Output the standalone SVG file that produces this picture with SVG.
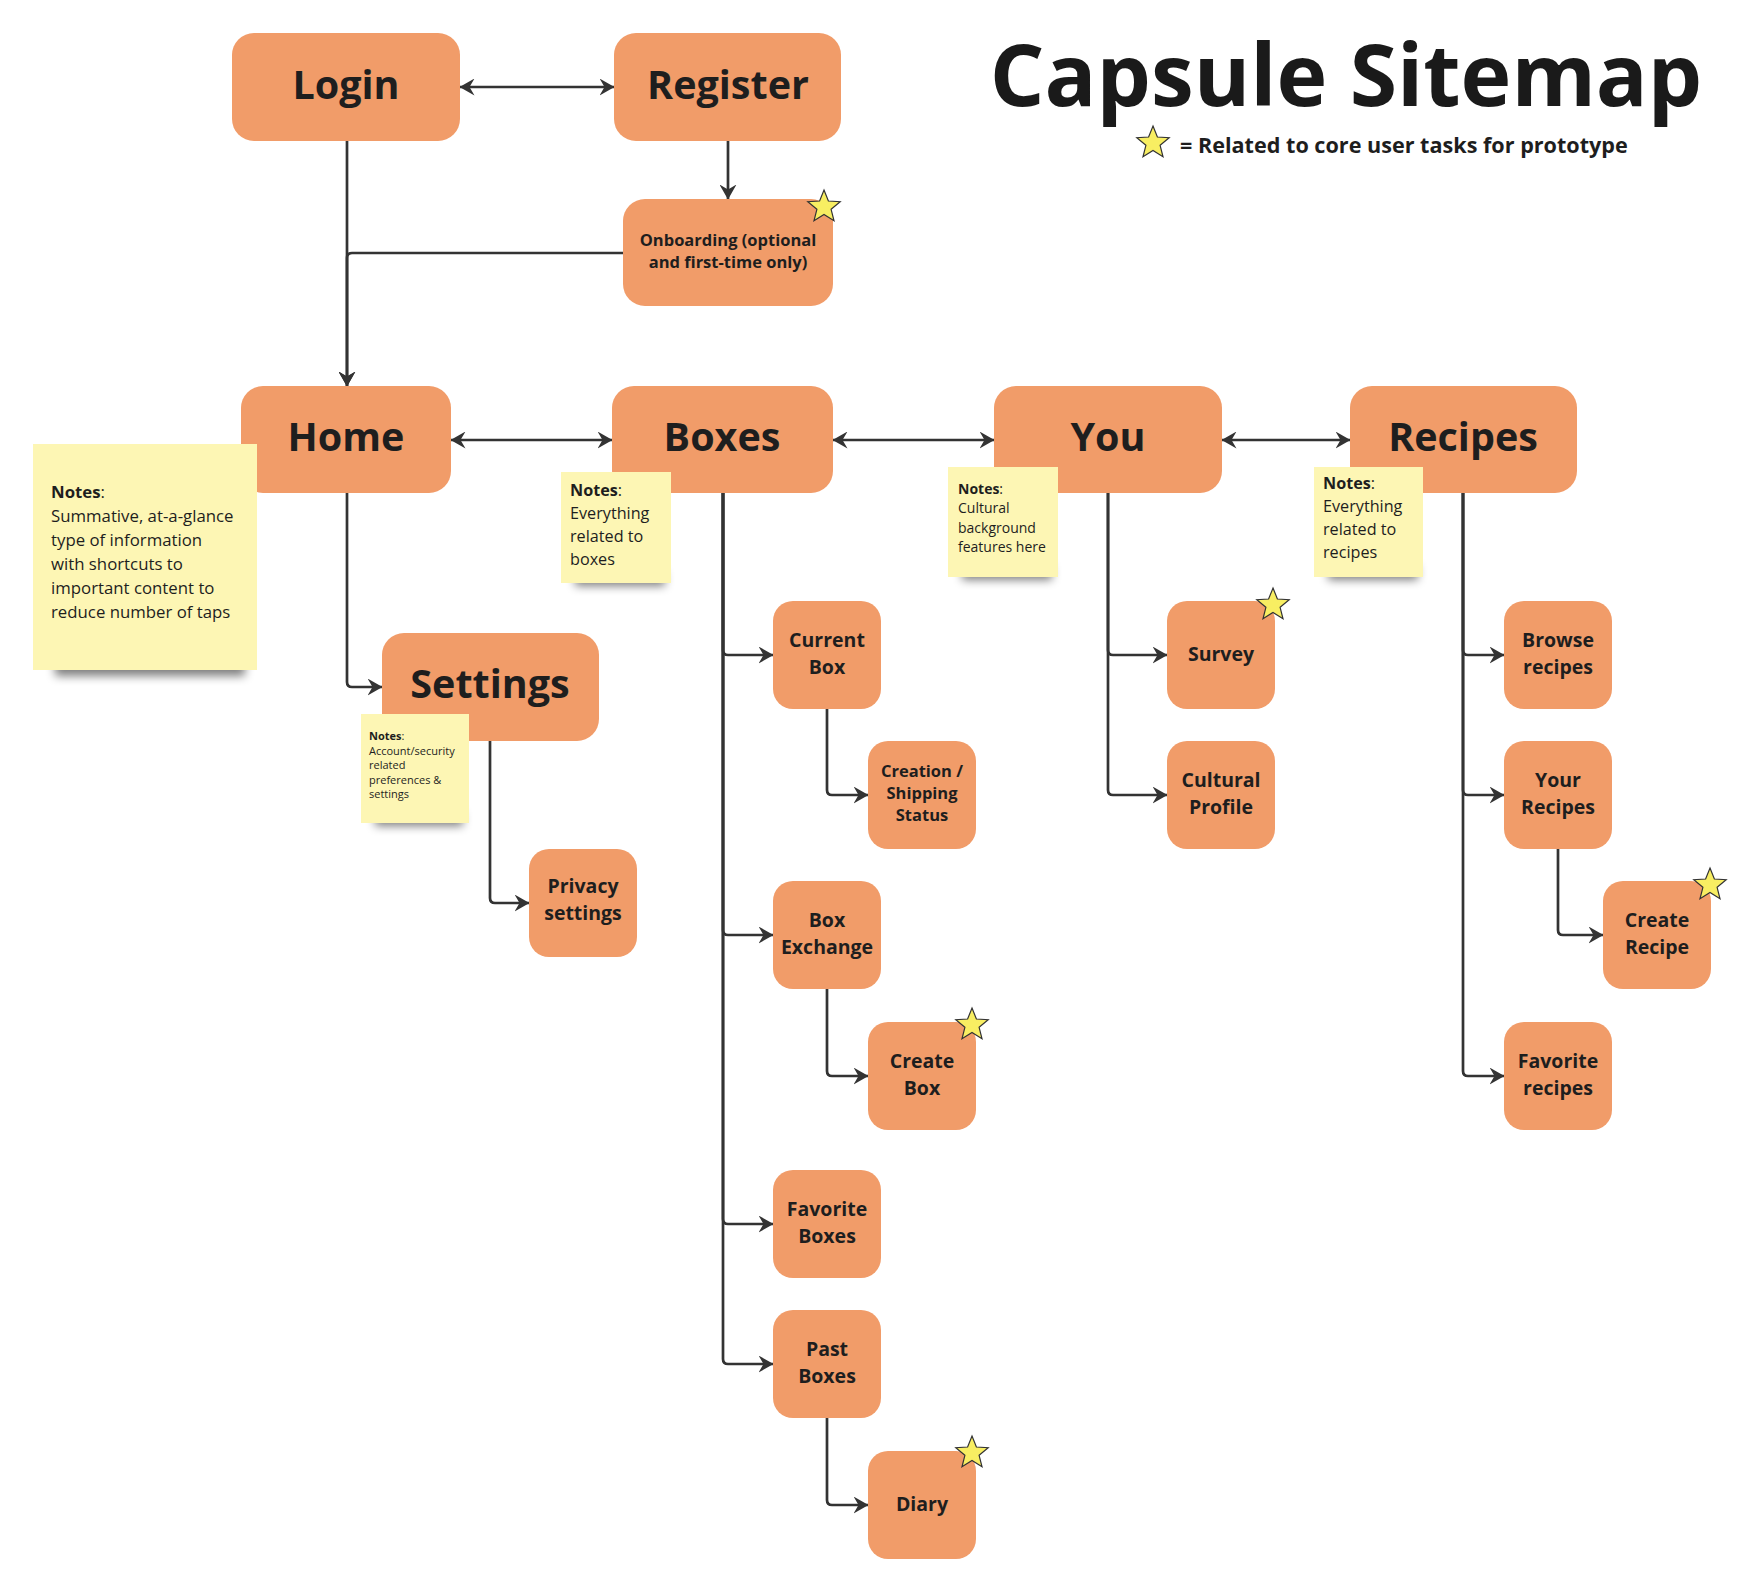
<svg xmlns="http://www.w3.org/2000/svg" width="1742" height="1586" viewBox="0 0 1742 1586">
<defs>
<style>
.box{fill:#F19C69;}
.big{font-family:"Open Sans","Liberation Sans",sans-serif;font-weight:700;font-size:39.5px;fill:#1E1E1E;text-anchor:middle;}
.sm{font-family:"Open Sans","Liberation Sans",sans-serif;font-weight:700;font-size:19.5px;fill:#1E1E1E;text-anchor:middle;}
.xs{font-family:"Open Sans","Liberation Sans",sans-serif;font-weight:700;font-size:16.5px;fill:#1E1E1E;text-anchor:middle;}
.note{fill:#FDF6B4;}
.nt{font-family:"Open Sans","Liberation Sans",sans-serif;fill:#1E1E1E;}
.b{font-weight:700;}
.con{fill:none;stroke:#333333;stroke-width:2.7;}
.star{fill:#F8EE62;stroke:#333333;stroke-width:1.2;stroke-linejoin:miter;}
.shadow{fill:#000;opacity:0.5;filter:url(#blur);}
</style>
<filter id="blur" x="-20%" y="-100%" width="140%" height="300%"><feGaussianBlur stdDeviation="5"/></filter>
<marker id="arr" viewBox="0 0 15 17" refX="14.5" refY="8.5" markerWidth="15" markerHeight="17" markerUnits="userSpaceOnUse" orient="auto-start-reverse">
<path d="M0,0 L15,8.5 L0,17 L5,8.5 Z" fill="#333333"/>
</marker>
<polygon id="st" class="star" points="0,-17 4.4,-6 16.2,-5.3 7.1,2.3 10,13.8 0,7.4 -10,13.8 -7.1,2.3 -16.2,-5.3 -4.4,-6"/>
</defs>
<rect width="1742" height="1586" fill="#FFFFFF"/>

<g id="title">
<text x="1346" y="106" font-family="Open Sans, Liberation Sans, sans-serif" font-weight="700" font-size="86" fill="#1A1A1A" text-anchor="middle">Capsule Sitemap</text>
<use href="#st" x="1153" y="143"/>
<text x="1180" y="153" font-family="Open Sans, Liberation Sans, sans-serif" font-weight="700" font-size="21.6" fill="#1E1E1E">= Related to core user tasks for prototype</text>
</g>

<g id="connectors">
<path class="con" d="M460,87 H614" marker-start="url(#arr)" marker-end="url(#arr)"/>
<path class="con" d="M728,141 V199" marker-end="url(#arr)"/>
<path class="con" d="M347,141 V386" marker-end="url(#arr)"/>
<path class="con" d="M623,253 H352 Q347,253 347,258 V386" marker-end="url(#arr)"/>
<path class="con" d="M451,440 H612" marker-start="url(#arr)" marker-end="url(#arr)"/>
<path class="con" d="M833,440 H994" marker-start="url(#arr)" marker-end="url(#arr)"/>
<path class="con" d="M1222,440 H1350" marker-start="url(#arr)" marker-end="url(#arr)"/>
<path class="con" d="M347,493 V682 Q347,687 352,687 H382" marker-end="url(#arr)"/>
<path class="con" d="M490,741 V898 Q490,903 495,903 H529" marker-end="url(#arr)"/>
<path class="con" d="M723,493 V650 Q723,655 728,655 H773" marker-end="url(#arr)"/>
<path class="con" d="M723,493 V930 Q723,935 728,935 H773" marker-end="url(#arr)"/>
<path class="con" d="M723,493 V1219 Q723,1224 728,1224 H773" marker-end="url(#arr)"/>
<path class="con" d="M723,493 V1359 Q723,1364 728,1364 H773" marker-end="url(#arr)"/>
<path class="con" d="M827,709 V790 Q827,795 832,795 H868" marker-end="url(#arr)"/>
<path class="con" d="M827,989 V1071 Q827,1076 832,1076 H868" marker-end="url(#arr)"/>
<path class="con" d="M827,1418 V1500 Q827,1505 832,1505 H868" marker-end="url(#arr)"/>
<path class="con" d="M1108,493 V650 Q1108,655 1113,655 H1167" marker-end="url(#arr)"/>
<path class="con" d="M1108,493 V790 Q1108,795 1113,795 H1167" marker-end="url(#arr)"/>
<path class="con" d="M1463,493 V650 Q1463,655 1468,655 H1504" marker-end="url(#arr)"/>
<path class="con" d="M1463,493 V790 Q1463,795 1468,795 H1504" marker-end="url(#arr)"/>
<path class="con" d="M1463,493 V1071 Q1463,1076 1468,1076 H1504" marker-end="url(#arr)"/>
<path class="con" d="M1558,849 V930 Q1558,935 1563,935 H1603" marker-end="url(#arr)"/>
</g>

<g id="login"><rect class="box" x="232" y="33" width="228" height="108" rx="22"/><text class="big" x="346" y="99">Login</text></g>
<g id="register"><rect class="box" x="614" y="33" width="227" height="108" rx="22"/><text class="big" x="728" y="99">Register</text></g>
<g id="onboarding"><rect class="box" x="623" y="199" width="210" height="107" rx="22"/><text class="xs" x="728" y="246">Onboarding (optional</text><text class="xs" x="728" y="268">and first-time only)</text><use href="#st" x="824" y="207"/></g>

<g id="home"><rect class="box" x="241" y="386" width="210" height="107" rx="22"/><text class="big" x="346" y="451">Home</text></g>
<g id="boxes"><rect class="box" x="612" y="386" width="221" height="107" rx="22"/><text class="big" x="722" y="451">Boxes</text></g>
<g id="you"><rect class="box" x="994" y="386" width="228" height="107" rx="22"/><text class="big" x="1108" y="451">You</text></g>
<g id="recipes"><rect class="box" x="1350" y="386" width="227" height="107" rx="22"/><text class="big" x="1463" y="451">Recipes</text></g>
<g id="settings"><rect class="box" x="382" y="633" width="217" height="108" rx="22"/><text class="big" x="490" y="698">Settings</text></g>

<g id="privacy"><rect class="box" x="529" y="849" width="108" height="108" rx="20"/><text class="sm" x="583" y="893">Privacy</text><text class="sm" x="583" y="920">settings</text></g>
<g id="current-box"><rect class="box" x="773" y="601" width="108" height="108" rx="20"/><text class="sm" x="827" y="647">Current</text><text class="sm" x="827" y="674">Box</text></g>
<g id="creation"><rect class="box" x="868" y="741" width="108" height="108" rx="20"/><text class="xs" x="922" y="777">Creation /</text><text class="xs" x="922" y="799">Shipping</text><text class="xs" x="922" y="821">Status</text></g>
<g id="box-exchange"><rect class="box" x="773" y="881" width="108" height="108" rx="20"/><text class="sm" x="827" y="927">Box</text><text class="sm" x="827" y="954">Exchange</text></g>
<g id="create-box"><rect class="box" x="868" y="1022" width="108" height="108" rx="20"/><text class="sm" x="922" y="1068">Create</text><text class="sm" x="922" y="1095">Box</text><use href="#st" x="972" y="1025"/></g>
<g id="favorite-boxes"><rect class="box" x="773" y="1170" width="108" height="108" rx="20"/><text class="sm" x="827" y="1216">Favorite</text><text class="sm" x="827" y="1243">Boxes</text></g>
<g id="past-boxes"><rect class="box" x="773" y="1310" width="108" height="108" rx="20"/><text class="sm" x="827" y="1356">Past</text><text class="sm" x="827" y="1383">Boxes</text></g>
<g id="diary"><rect class="box" x="868" y="1451" width="108" height="108" rx="20"/><text class="sm" x="922" y="1511">Diary</text><use href="#st" x="972" y="1453"/></g>
<g id="survey"><rect class="box" x="1167" y="601" width="108" height="108" rx="20"/><text class="sm" x="1221" y="661">Survey</text><use href="#st" x="1273" y="605"/></g>
<g id="cultural-profile"><rect class="box" x="1167" y="741" width="108" height="108" rx="20"/><text class="sm" x="1221" y="787">Cultural</text><text class="sm" x="1221" y="814">Profile</text></g>
<g id="browse-recipes"><rect class="box" x="1504" y="601" width="108" height="108" rx="20"/><text class="sm" x="1558" y="647">Browse</text><text class="sm" x="1558" y="674">recipes</text></g>
<g id="your-recipes"><rect class="box" x="1504" y="741" width="108" height="108" rx="20"/><text class="sm" x="1558" y="787">Your</text><text class="sm" x="1558" y="814">Recipes</text></g>
<g id="create-recipe"><rect class="box" x="1603" y="881" width="108" height="108" rx="20"/><text class="sm" x="1657" y="927">Create</text><text class="sm" x="1657" y="954">Recipe</text><use href="#st" x="1710" y="885"/></g>
<g id="favorite-recipes"><rect class="box" x="1504" y="1022" width="108" height="108" rx="20"/><text class="sm" x="1558" y="1068">Favorite</text><text class="sm" x="1558" y="1095">recipes</text></g>

<g id="note-home">
<rect class="shadow" x="55" y="658" width="190" height="18"/>
<rect class="note" x="33" y="444" width="224" height="226"/>
<text class="nt" font-size="16.8" x="51" y="498"><tspan class="b">Notes</tspan>:</text>
<text class="nt" font-size="16.8" x="51" y="522">Summative, at-a-glance</text>
<text class="nt" font-size="16.8" x="51" y="546">type of information</text>
<text class="nt" font-size="16.8" x="51" y="570">with shortcuts to</text>
<text class="nt" font-size="16.8" x="51" y="594">important content to</text>
<text class="nt" font-size="16.8" x="51" y="618">reduce number of taps</text>
</g>
<g id="note-boxes">
<rect class="shadow" x="575" y="572" width="90" height="14"/>
<rect class="note" x="561" y="472" width="110" height="111"/>
<text class="nt" font-size="16.2" x="570" y="496"><tspan class="b">Notes</tspan>:</text>
<text class="nt" font-size="16.2" x="570" y="519">Everything</text>
<text class="nt" font-size="16.2" x="570" y="542">related to</text>
<text class="nt" font-size="16.2" x="570" y="565">boxes</text>
</g>
<g id="note-you">
<rect class="shadow" x="962" y="566" width="90" height="14"/>
<rect class="note" x="948" y="467" width="110" height="110"/>
<text class="nt" font-size="14" x="958" y="494"><tspan class="b">Notes</tspan>:</text>
<text class="nt" font-size="14" x="958" y="513">Cultural</text>
<text class="nt" font-size="14" x="958" y="533">background</text>
<text class="nt" font-size="14" x="958" y="552">features here</text>
</g>
<g id="note-recipes">
<rect class="shadow" x="1328" y="566" width="90" height="14"/>
<rect class="note" x="1314" y="467" width="109" height="110"/>
<text class="nt" font-size="16.2" x="1323" y="489"><tspan class="b">Notes</tspan>:</text>
<text class="nt" font-size="16.2" x="1323" y="512">Everything</text>
<text class="nt" font-size="16.2" x="1323" y="535">related to</text>
<text class="nt" font-size="16.2" x="1323" y="558">recipes</text>
</g>
<g id="note-settings">
<rect class="shadow" x="375" y="812" width="88" height="14"/>
<rect class="note" x="361" y="714" width="108" height="109"/>
<text class="nt" font-size="11" x="369" y="740"><tspan class="b">Notes</tspan>:</text>
<text class="nt" font-size="11" x="369" y="755">Account/security</text>
<text class="nt" font-size="11" x="369" y="769">related</text>
<text class="nt" font-size="11" x="369" y="784">preferences &amp;</text>
<text class="nt" font-size="11" x="369" y="798">settings</text>
</g>
</svg>
